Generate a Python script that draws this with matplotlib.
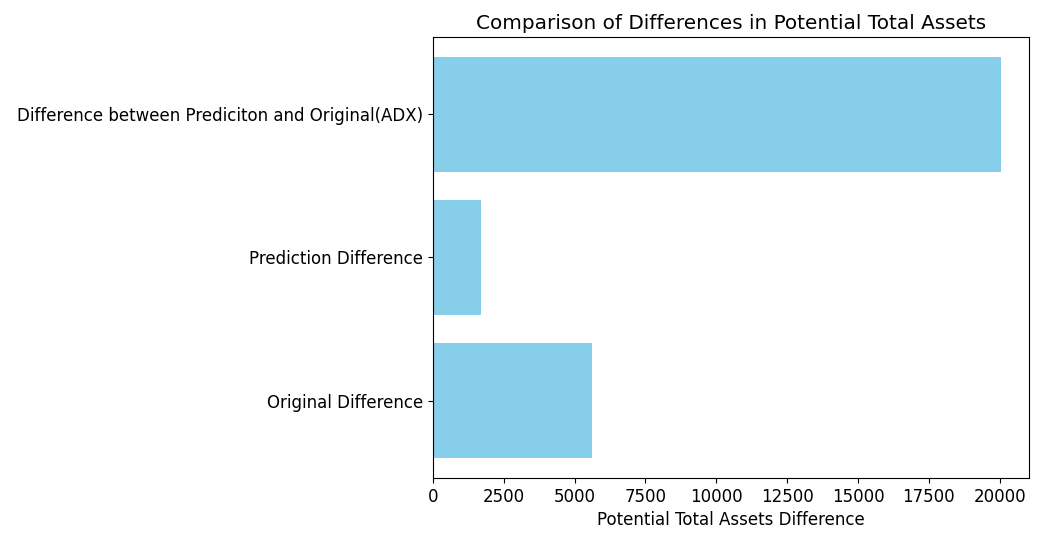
import matplotlib
matplotlib.use("Agg")
import matplotlib.pyplot as plt

categories = ["Original Difference", "Prediction Difference",
              "Difference between Prediciton and Original(ADX)"]
values = [5627, 1713, 20035]

plt.rcParams["font.size"] = 12

fig, ax = plt.subplots(figsize=(10.4, 5.33), dpi=100)
ax.barh(categories, values, color="skyblue")
ax.set_xlabel("Potential Total Assets Difference")
ax.set_title("Comparison of Differences in Potential Total Assets")
ax.set_xticks([0, 2500, 5000, 7500, 10000, 12500, 15000, 17500, 20000])
fig.subplots_adjust(left=0.4163, right=0.9895, top=0.9306, bottom=0.1032)
fig.savefig("out.png")
